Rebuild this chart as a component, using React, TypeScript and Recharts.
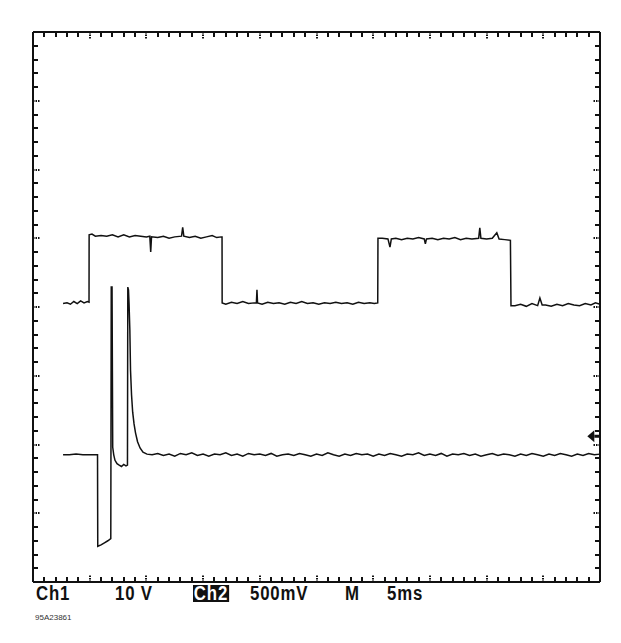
import { ComposedChart, Line, Scatter, XAxis, YAxis, ReferenceDot } from "recharts";

// time in ms (5 ms/div), level in screen divisions (0 = bottom of graticule)
const ch1Trace: [number, number][] = [
  [2.65, 4.05], [3.0, 4.06], [3.3, 4.04], [3.6, 4.08], [3.9, 4.05], [4.2, 4.09], [4.5, 4.06], [4.8, 4.08], [4.94, 4.07],
  [4.95, 5.05], [5.2, 5.06], [5.5, 5.03], [6.0, 5.04], [6.5, 5.03], [7.0, 5.05], [7.5, 5.02], [8.0, 5.05], [8.5, 5.02],
  [9.0, 5.04], [9.5, 5.03], [10.0, 5.02], [10.3, 5.03], [10.38, 4.8], [10.45, 5.02], [11.0, 5.01], [11.5, 5.03],
  [12.0, 5.0], [12.5, 5.02], [13.1, 5.03], [13.2, 5.16], [13.3, 5.03], [13.8, 5.01], [14.3, 5.03], [14.8, 5.0],
  [15.3, 5.02], [15.8, 5.04], [16.2, 5.01], [16.6, 5.02], [16.67, 5.02],
  [16.68, 4.06], [17.0, 4.04], [17.5, 4.07], [18.0, 4.05], [18.5, 4.08], [19.0, 4.05], [19.5, 4.06], [19.7, 4.06],
  [19.75, 4.25], [19.8, 4.06], [20.2, 4.04], [20.7, 4.07], [21.2, 4.05], [21.7, 4.06], [22.2, 4.04], [22.7, 4.07],
  [23.2, 4.05], [23.7, 4.08], [24.2, 4.05], [24.7, 4.06], [25.2, 4.04], [25.7, 4.06], [26.2, 4.05], [26.7, 4.07],
  [27.2, 4.05], [27.7, 4.06], [28.2, 4.04], [28.7, 4.07], [29.2, 4.05], [29.7, 4.06], [30.1, 4.05], [30.4, 4.06],
  [30.42, 5.0], [30.8, 5.0], [31.3, 4.99], [31.48, 4.87], [31.6, 4.99], [32.0, 5.0], [32.5, 4.98], [33.0, 5.0],
  [33.5, 4.99], [34.0, 5.01], [34.5, 4.99], [34.6, 4.92], [34.7, 4.99], [35.2, 5.0], [35.7, 4.98], [36.2, 5.0],
  [36.7, 4.99], [37.2, 5.01], [37.7, 4.98], [38.2, 5.0], [38.7, 4.99], [39.3, 5.0], [39.4, 5.15], [39.5, 5.0],
  [40.0, 4.99], [40.5, 5.0], [40.9, 5.08], [41.1, 4.99], [41.6, 4.98], [42.1, 4.97],
  [42.15, 4.02], [42.5, 4.02], [43.0, 4.04], [43.5, 4.01], [44.0, 4.05], [44.5, 4.02], [44.7, 4.13], [44.9, 4.03],
  [45.2, 4.03], [45.7, 4.01], [46.2, 4.04], [46.7, 4.02], [47.2, 4.05], [47.7, 4.03], [48.2, 4.02], [48.7, 4.05],
  [49.2, 4.03], [49.6, 4.06], [50.0, 4.04],
];

const ch2Trace: [number, number][] = [
  [2.65, 1.85], [3.2, 1.85], [3.8, 1.86], [4.4, 1.85], [5.0, 1.85], [5.69, 1.85],
  [5.71, 0.52], [6.0, 0.54], [6.3, 0.57], [6.6, 0.6], [6.86, 0.63],
  [6.9, 4.29], [6.97, 4.29], [7.03, 1.96], [7.12, 1.85], [7.23, 1.77], [7.41, 1.72], [7.6, 1.7], [7.8, 1.68],
  [8.0, 1.71], [8.2, 1.69], [8.33, 1.7],
  [8.36, 4.29], [8.42, 4.25], [8.47, 4.05], [8.54, 3.67], [8.6, 3.08], [8.69, 2.72], [8.79, 2.47], [8.91, 2.3],
  [9.04, 2.17], [9.22, 2.04], [9.44, 1.95], [9.7, 1.89], [10.05, 1.86],
  [10.5, 1.85], [11, 1.87], [11.5, 1.84], [12, 1.86], [12.5, 1.83], [13, 1.87], [13.5, 1.85], [14, 1.88],
  [14.5, 1.84], [15, 1.86], [15.5, 1.83], [16, 1.86], [16.5, 1.85], [17, 1.88], [17.5, 1.84], [18, 1.86],
  [18.5, 1.83], [19, 1.87], [19.5, 1.85], [20, 1.86], [20.5, 1.84], [21, 1.87], [21.5, 1.83], [22, 1.85],
  [22.5, 1.86], [23, 1.84], [23.5, 1.87], [24, 1.85], [24.5, 1.83], [25, 1.86], [25.5, 1.84], [26, 1.88],
  [26.5, 1.85], [27, 1.83], [27.5, 1.86], [28, 1.84], [28.5, 1.87], [29, 1.85], [29.5, 1.86], [30, 1.83],
  [30.5, 1.86], [31, 1.84], [31.5, 1.87], [32, 1.85], [32.5, 1.83], [33, 1.86], [33.5, 1.85], [34, 1.88],
  [34.5, 1.84], [35, 1.86], [35.5, 1.84], [36, 1.87], [36.5, 1.83], [37, 1.86], [37.5, 1.85], [38, 1.87],
  [38.5, 1.84], [39, 1.86], [39.5, 1.83], [40, 1.85], [40.5, 1.87], [41, 1.84], [41.5, 1.86], [42, 1.85],
  [42.5, 1.83], [43, 1.86], [43.5, 1.84], [44, 1.87], [44.5, 1.85], [45, 1.83], [45.5, 1.86], [46, 1.84],
  [46.5, 1.87], [47, 1.85], [47.5, 1.83], [48, 1.86], [48.5, 1.84], [49, 1.87], [49.5, 1.85], [50, 1.86],
];

// graticule: 10 x 8 divisions, 5 minor marks per division
const timeTicks = [
  0, 1, 2, 3, 4, 5, 6, 7, 8, 9, 10, 11, 12, 13, 14, 15, 16, 17, 18, 19, 20, 21, 22, 23, 24, 25,
  26, 27, 28, 29, 30, 31, 32, 33, 34, 35, 36, 37, 38, 39, 40, 41, 42, 43, 44, 45, 46, 47, 48, 49, 50,
];
const divTicks = [
  0, 0.2, 0.4, 0.6, 0.8, 1, 1.2, 1.4, 1.6, 1.8, 2, 2.2, 2.4, 2.6, 2.8, 3, 3.2, 3.4, 3.6, 3.8, 4,
  4.2, 4.4, 4.6, 4.8, 5, 5.2, 5.4, 5.6, 5.8, 6, 6.2, 6.4, 6.6, 6.8, 7, 7.2, 7.4, 7.6, 7.8, 8,
];

const ch2GroundMarker = { t: 49.5, level: 2.12 };

const ch1Data = ch1Trace.map(([t, v]) => ({ t, v }));
const ch2Data = ch2Trace.map(([t, v]) => ({ t, v }));

const isMajor = (v: number, every: number) => Math.abs(v / every - Math.round(v / every)) < 1e-6;

// edge marks of the graticule, placed through the chart scales
const graticuleMarks = [
  ...timeTicks.map((t) => ({ t, v: 0, side: "bottom", major: isMajor(t, 5) })),
  ...timeTicks.map((t) => ({ t, v: 8, side: "top", major: isMajor(t, 5) })),
  ...divTicks.map((d) => ({ t: 0, v: d, side: "left", major: isMajor(d, 1) })),
  ...divTicks.map((d) => ({ t: 50, v: d, side: "right", major: isMajor(d, 1) })),
];

const INK = "#111";

const markShape = (props: any) => {
  const { cx, cy, payload } = props;
  const len = payload.major ? 7 : 5;
  const w = payload.major ? 1.5 : 2;
  const x = Math.round(cx);
  const y = Math.round(cy);
  let d = "";
  if (payload.side === "top") d = `M${x - w / 2},${y} h${w} v${len} h${-w} Z`;
  if (payload.side === "bottom") d = `M${x - w / 2},${y - len} h${w} v${len} h${-w} Z`;
  if (payload.side === "left") d = `M${x},${y - w / 2} h${len} v${w} h${-len} Z`;
  if (payload.side === "right") d = `M${x - len},${y - w / 2} h${len} v${w} h${-len} Z`;
  if (payload.major) {
    // dotted look of the long division marks
    const dots = [];
    for (let i = 0; i < len; i += 2.5) {
      if (payload.side === "top") dots.push(<rect key={i} x={x - 1} y={y + i} width={2} height={1.5} fill={INK} />);
      if (payload.side === "bottom") dots.push(<rect key={i} x={x - 1} y={y - i - 1.5} width={2} height={1.5} fill={INK} />);
      if (payload.side === "left") dots.push(<rect key={i} x={x + i} y={y - 1} width={1.5} height={2} fill={INK} />);
      if (payload.side === "right") dots.push(<rect key={i} x={x - i - 1.5} y={y - 1} width={1.5} height={2} fill={INK} />);
    }
    return <g>{dots}</g>;
  }
  return <path d={d} fill={INK} />;
};

const arrowShape = (props: any) => {
  const { cx, cy } = props;
  return (
    <g>
      <polygon points={`${cx - 7},${cy} ${cx},${cy - 6} ${cx},${cy + 6}`} fill={INK} />
      <line x1={cx} y1={cy} x2={cx + 5} y2={cy} stroke={INK} strokeWidth={3} />
    </g>
  );
};

const labelFont = '"Liberation Sans", Arial, sans-serif';

const label = (left: number, text: string, inverted = false) => (
  <div
    style={{
      position: "absolute",
      left,
      top: 585,
      fontFamily: labelFont,
      fontWeight: 700,
      fontSize: 20,
      lineHeight: "17px",
      letterSpacing: 1,
      whiteSpace: "pre",
      color: inverted ? "#fff" : INK,
      background: inverted ? INK : "transparent",
      padding: inverted ? "0 1px" : 0,
      transform: "scaleX(0.84)",
      transformOrigin: "left top",
    }}
  >
    {text}
  </div>
);

const frameLine = { stroke: INK, strokeWidth: 2 };

export default function App() {
  return (
    <div style={{ position: "absolute", left: 0, top: 0, width: 621, height: 643, background: "#fff" }}>
      <ComposedChart width={621} height={643} margin={{ top: 31, right: 20, bottom: 60, left: 32 }}>
        <XAxis xAxisId="b" type="number" dataKey="t" orientation="bottom" domain={[0, 50]}
          height={1} tick={false} tickLine={false} axisLine={frameLine} />
        <XAxis xAxisId="t" type="number" dataKey="t" orientation="top" domain={[0, 50]}
          height={1} tick={false} tickLine={false} axisLine={frameLine} />
        <YAxis yAxisId="l" type="number" dataKey="v" orientation="left" domain={[0, 8]}
          width={1} tick={false} tickLine={false} axisLine={frameLine} />
        <YAxis yAxisId="r" type="number" dataKey="v" orientation="right" domain={[0, 8]}
          width={1} tick={false} tickLine={false} axisLine={frameLine} />
        <Scatter
          xAxisId="b"
          yAxisId="l"
          data={graticuleMarks}
          dataKey="v"
          shape={markShape}
          isAnimationActive={false}
        />
        <Line
          xAxisId="b"
          yAxisId="l"
          data={ch1Data}
          dataKey="v"
          type="linear"
          stroke={INK}
          strokeWidth={1.5}
          dot={false}
          isAnimationActive={false}
        />
        <Line
          xAxisId="b"
          yAxisId="l"
          data={ch2Data}
          dataKey="v"
          type="linear"
          stroke={INK}
          strokeWidth={1.5}
          dot={false}
          isAnimationActive={false}
        />
        <ReferenceDot
          xAxisId="b"
          yAxisId="l"
          x={ch2GroundMarker.t}
          y={ch2GroundMarker.level}
          ifOverflow="visible"
          shape={arrowShape}
        />
      </ComposedChart>
      {label(36, "Ch1")}
      {label(115, "10 V")}
      {label(193, "Ch2", true)}
      {label(250, "500mV")}
      {label(345, "M")}
      {label(387, "5ms")}
      <div
        style={{
          position: "absolute",
          left: 35,
          top: 613,
          fontFamily: '"Liberation Sans", Arial, sans-serif',
          fontSize: 8,
          color: "#333",
        }}
      >
        95A23861
      </div>
    </div>
  );
}
